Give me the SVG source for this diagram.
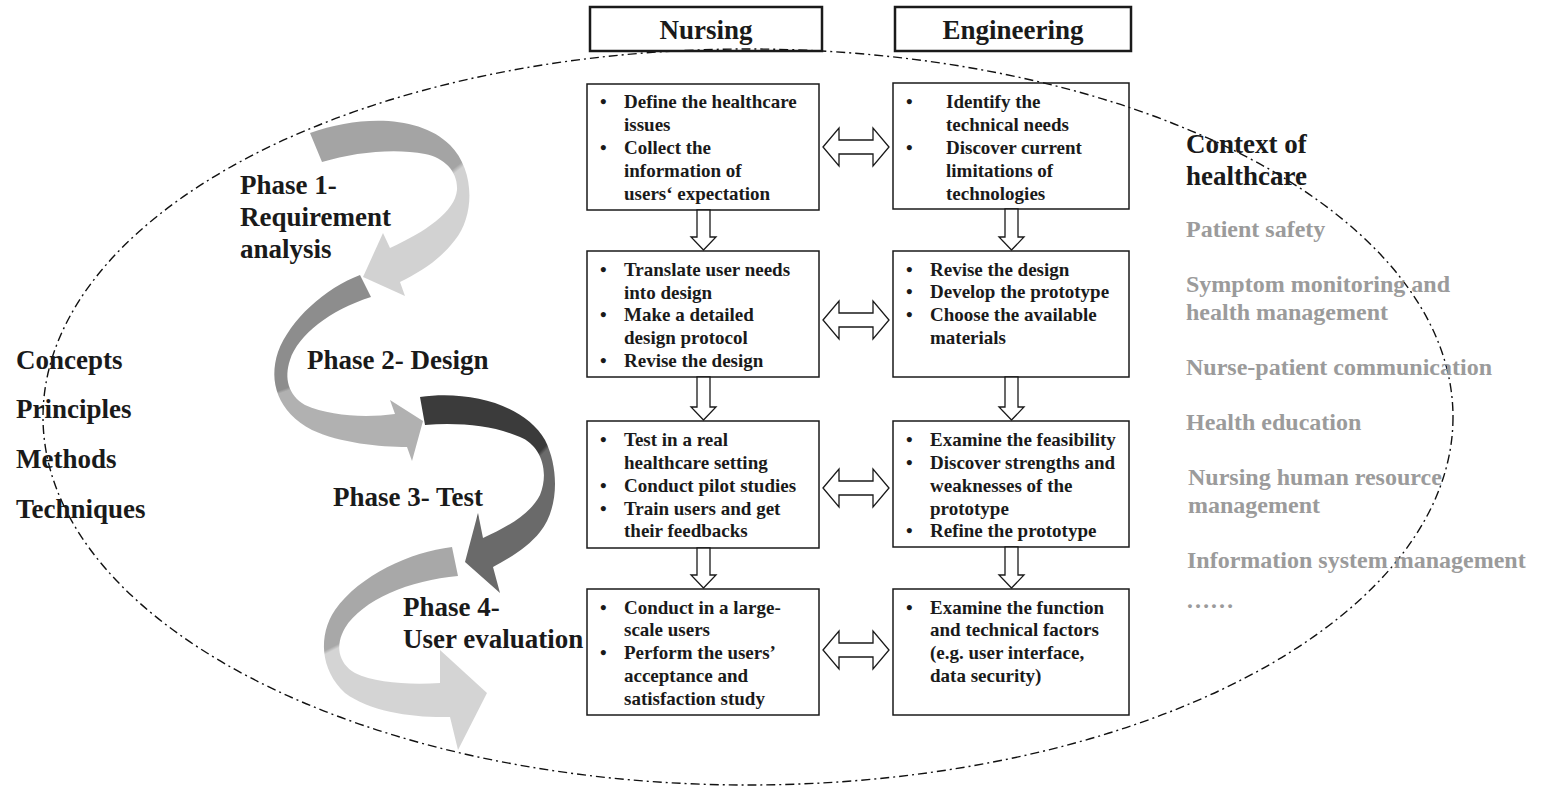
<svg xmlns="http://www.w3.org/2000/svg" width="1550" height="788" viewBox="0 0 1550 788">
<style>
.t{font-family:"Liberation Serif","Times New Roman",serif;font-weight:bold;fill:#1a1a1a}
.bx{font-size:19px}
.ph{font-size:27px}
.hd{font-size:27px}
.gr{font-family:"Liberation Serif","Times New Roman",serif;font-weight:bold;font-size:24px;fill:#9b9b9b}
.box{fill:none;stroke:#1a1a1a;stroke-width:1.5}
.hbox{fill:none;stroke:#1a1a1a;stroke-width:2.5}
.conn{fill:#fff;stroke:#1a1a1a;stroke-width:1.3}
.ell{fill:none;stroke:#111;stroke-width:1.4;stroke-dasharray:9 4 2 4}
</style>
<defs>
<linearGradient id="g1" gradientUnits="userSpaceOnUse" x1="452" y1="158" x2="466" y2="176">
<stop offset="0.4" stop-color="#a4a4a4"/><stop offset="0.6" stop-color="#d2d2d2"/>
</linearGradient>
<linearGradient id="g2" gradientUnits="userSpaceOnUse" x1="280" y1="384" x2="285" y2="398">
<stop offset="0.4" stop-color="#8d8d8d"/><stop offset="0.6" stop-color="#b1b1b1"/>
</linearGradient>
<linearGradient id="g3" gradientUnits="userSpaceOnUse" x1="538" y1="442" x2="552" y2="456">
<stop offset="0.4" stop-color="#3b3b3b"/><stop offset="0.6" stop-color="#6a6a6a"/>
</linearGradient>
<linearGradient id="g4" gradientUnits="userSpaceOnUse" x1="322" y1="644" x2="330" y2="660">
<stop offset="0.4" stop-color="#a8a8a8"/><stop offset="0.6" stop-color="#d4d4d4"/>
</linearGradient>
<path id="dbl" d="M0,0 L16,-19 L16,-7 L50,-7 L50,-19 L66,0 L50,19 L50,7 L16,7 L16,19 Z"/>
</defs>

<rect width="1550" height="788" fill="#fff"/>

<ellipse class="ell" cx="748" cy="417" rx="705" ry="368"/>

<g id="phase-arrows">
<path id="arrow-phase1" fill="url(#g1)" d="M310,133 C360,115 420,115 450,145 C475,170 475,215 455,240 C440,260 420,272 400,282 L405,296 L363,277 L383,233 L390,248 C425,232 455,212 457,190 C458,172 445,158 425,154 C395,148 355,152 322,162 Z"/>
<path id="arrow-phase2" fill="url(#g2)" d="M360,275 C325,288 290,320 278,352 C268,382 278,412 312,430 C340,443 380,447 407,447 L412,461 L423,421 L390,400 L395,414 C365,418 330,416 305,405 C288,395 284,378 290,360 C298,335 330,310 371,297 Z"/>
<path id="arrow-phase3" fill="url(#g3)" d="M420,397 C470,390 525,405 545,440 C560,470 558,510 540,532 C528,547 510,558 493,567 L500,593 L465,562 L478,513 L483,538 C505,528 530,515 540,495 C550,470 540,445 520,437 C495,426 460,422 425,425 Z"/>
<path id="arrow-phase4" fill="url(#g4)" d="M452,547 C410,552 360,575 335,610 C318,635 320,670 345,693 C370,712 415,718 450,717 L458,750 L487,693 L440,650 L440,683 C410,685 375,683 355,673 C338,663 335,645 345,628 C362,600 410,580 458,576 Z"/>
</g>

<g id="phase-labels">
<text class="t ph" x="240" y="194">Phase 1-</text>
<text class="t ph" x="240" y="226">Requirement</text>
<text class="t ph" x="240" y="258">analysis</text>
<text class="t ph" x="307" y="369">Phase 2- Design</text>
<text class="t ph" x="333" y="506">Phase 3- Test</text>
<text class="t ph" x="403" y="616">Phase 4-</text>
<text class="t ph" x="403" y="648">User evaluation</text>
</g>

<g id="left-list">
<text class="t ph" x="16" y="369">Concepts</text>
<text class="t ph" x="16" y="418">Principles</text>
<text class="t ph" x="16" y="468">Methods</text>
<text class="t ph" x="16" y="518">Techniques</text>
</g>

<g id="context-list">
<text class="t hd" x="1186" y="153">Context of</text>
<text class="t hd" x="1186" y="185">healthcare</text>
<text class="gr" x="1186" y="237">Patient safety</text>
<text class="gr" x="1186" y="292">Symptom monitoring and</text>
<text class="gr" x="1186" y="320">health management</text>
<text class="gr" x="1186" y="375">Nurse-patient communication</text>
<text class="gr" x="1186" y="430">Health education</text>
<text class="gr" x="1188" y="485">Nursing human resource</text>
<text class="gr" x="1188" y="513">management</text>
<text class="gr" x="1187" y="568">Information system management</text>
<text class="gr" x="1186" y="608">……</text>
</g>

<g id="header-nursing">
<rect class="hbox" x="590" y="7" width="232" height="44"/>
<text class="t hd" x="706" y="39" text-anchor="middle">Nursing</text>
</g>
<g id="header-engineering">
<rect class="hbox" x="895" y="7" width="236" height="44"/>
<text class="t hd" x="1013" y="39" text-anchor="middle">Engineering</text>
</g>

<g id="nursing-1">
<rect class="box" x="587" y="84" width="232" height="126"/>
<text class="t bx"><tspan x="600" y="108">•</tspan><tspan x="624" y="108">Define the healthcare</tspan><tspan x="624" y="131">issues</tspan><tspan x="600" y="154">•</tspan><tspan x="624" y="154">Collect the</tspan><tspan x="624" y="177">information of</tspan><tspan x="624" y="200">users‘ expectation</tspan></text>
</g>
<g id="engineering-1">
<rect class="box" x="893" y="83" width="236" height="126"/>
<text class="t bx"><tspan x="906" y="108">•</tspan><tspan x="946" y="108">Identify the</tspan><tspan x="946" y="131">technical needs</tspan><tspan x="906" y="154">•</tspan><tspan x="946" y="154">Discover current</tspan><tspan x="946" y="177">limitations of</tspan><tspan x="946" y="200">technologies</tspan></text>
</g>
<g id="nursing-2">
<rect class="box" x="587" y="251" width="232" height="126"/>
<text class="t bx"><tspan x="600" y="276">•</tspan><tspan x="624" y="276">Translate user needs</tspan><tspan x="624" y="299">into design</tspan><tspan x="600" y="321">•</tspan><tspan x="624" y="321">Make a detailed</tspan><tspan x="624" y="344">design protocol</tspan><tspan x="600" y="367">•</tspan><tspan x="624" y="367">Revise the design</tspan></text>
</g>
<g id="engineering-2">
<rect class="box" x="893" y="251" width="236" height="126"/>
<text class="t bx"><tspan x="906" y="276">•</tspan><tspan x="930" y="276">Revise the design</tspan><tspan x="906" y="298">•</tspan><tspan x="930" y="298">Develop the prototype</tspan><tspan x="906" y="321">•</tspan><tspan x="930" y="321">Choose the available</tspan><tspan x="930" y="344">materials</tspan></text>
</g>
<g id="nursing-3">
<rect class="box" x="587" y="421" width="232" height="127"/>
<text class="t bx"><tspan x="600" y="446">•</tspan><tspan x="624" y="446">Test in a real</tspan><tspan x="624" y="469">healthcare setting</tspan><tspan x="600" y="492">•</tspan><tspan x="624" y="492">Conduct pilot studies</tspan><tspan x="600" y="515">•</tspan><tspan x="624" y="515">Train users and get</tspan><tspan x="624" y="537">their feedbacks</tspan></text>
</g>
<g id="engineering-3">
<rect class="box" x="893" y="421" width="236" height="126"/>
<text class="t bx"><tspan x="906" y="446">•</tspan><tspan x="930" y="446">Examine the feasibility</tspan><tspan x="906" y="469">•</tspan><tspan x="930" y="469">Discover strengths and</tspan><tspan x="930" y="492">weaknesses of the</tspan><tspan x="930" y="515">prototype</tspan><tspan x="906" y="537">•</tspan><tspan x="930" y="537">Refine the prototype</tspan></text>
</g>
<g id="nursing-4">
<rect class="box" x="587" y="589" width="232" height="126"/>
<text class="t bx"><tspan x="600" y="614">•</tspan><tspan x="624" y="614">Conduct in a large-</tspan><tspan x="624" y="636">scale users</tspan><tspan x="600" y="659">•</tspan><tspan x="624" y="659">Perform the users’</tspan><tspan x="624" y="682">acceptance and</tspan><tspan x="624" y="705">satisfaction study</tspan></text>
</g>
<g id="engineering-4">
<rect class="box" x="893" y="589" width="236" height="126"/>
<text class="t bx"><tspan x="906" y="614">•</tspan><tspan x="930" y="614">Examine the function</tspan><tspan x="930" y="636">and technical factors</tspan><tspan x="930" y="659">(e.g. user interface,</tspan><tspan x="930" y="682">data security)</tspan></text>
</g>

<g id="connectors">
<use href="#dbl" class="conn" x="823" y="147"/>
<use href="#dbl" class="conn" x="823" y="320"/>
<use href="#dbl" class="conn" x="823" y="488"/>
<use href="#dbl" class="conn" x="823" y="650"/>
<path class="conn" d="M697,210 L710,210 L710,237 L716,237 L703.5,250 L691,237 L697,237 Z"/>
<path class="conn" d="M697,377 L710,377 L710,407 L716,407 L703.5,420 L691,407 L697,407 Z"/>
<path class="conn" d="M697,548 L710,548 L710,575 L716,575 L703.5,588 L691,575 L697,575 Z"/>
<path class="conn" d="M1005,209 L1018,209 L1018,237 L1024,237 L1011.5,250 L999,237 L1005,237 Z"/>
<path class="conn" d="M1005,377 L1018,377 L1018,407 L1024,407 L1011.5,420 L999,407 L1005,407 Z"/>
<path class="conn" d="M1005,547 L1018,547 L1018,575 L1024,575 L1011.5,588 L999,575 L1005,575 Z"/>
</g>
</svg>
